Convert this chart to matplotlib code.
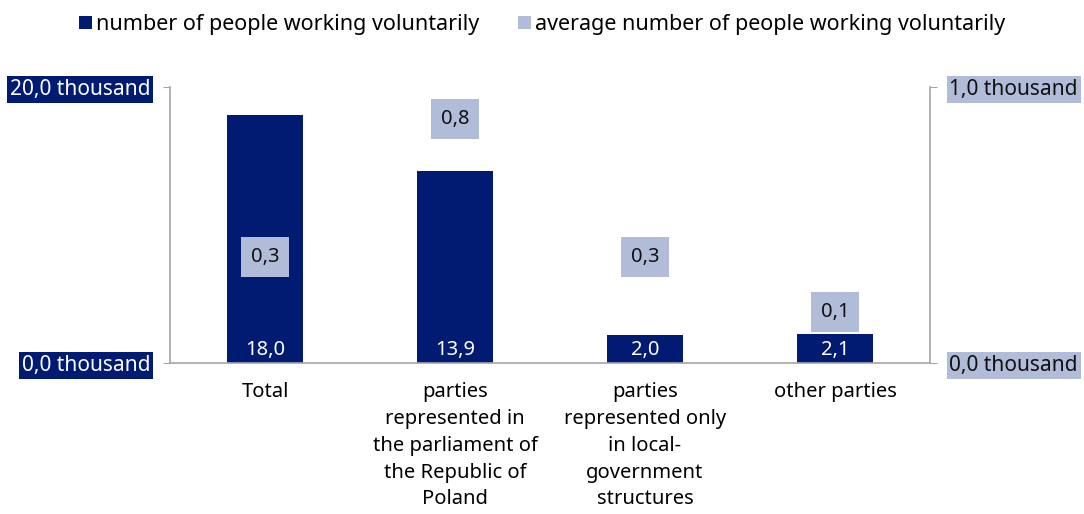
import matplotlib
matplotlib.use("Agg")
import matplotlib.pyplot as plt
import numpy as np
from matplotlib.patches import Patch

categories = ["Total",
              "parties\nrepresented in\nthe parliament of\nthe Republic of\nPoland",
              "parties\nrepresented only\nin local-\ngovernment\nstructures",
              "other parties"]
volunteers = [18.0, 13.9, 2.0, 2.1]          # thousand
avg_volunteers = [0.3, 0.8, 0.3, 0.1]        # thousand
left_ticks = [0.0, 20.0]
right_ticks = [0.0, 1.0]
series_names = ["number of people working voluntarily",
                "average number of people working voluntarily"]

NAVY = "#001b71"
LIGHT = "#b1bcd8"
GREY = "#a6a6a6"

def fmt(v):
    return f"{v:.1f}".replace(".", ",")

plt.rcParams['font.family'] = ['Noto Sans', 'DejaVu Sans']
plt.rcParams['font.size'] = 14.5

fig = plt.figure(figsize=(10.84, 5.14), dpi=100)
ax = fig.add_axes([170/1084, 1 - 363/514, (930-170)/1084, (363-87)/514])
x = np.arange(len(categories))
ax.bar(x, volunteers, width=0.4, color=NAVY, zorder=2)
ax.set_xlim(-0.5, len(categories) - 0.5)
ax.set_ylim(left_ticks[0], left_ticks[-1])

for xi, v in zip(x, volunteers):
    ax.annotate(fmt(v), (xi, 0), xytext=(0, 2), textcoords="offset points",
                ha="center", va="bottom", color="white", fontsize=14.5)

ax.set_xticks(x)
ax.set_xticklabels(categories, linespacing=1.45, va="top", fontsize=14.5)
ax.tick_params(axis="x", length=0, pad=14)
ax.set_yticks(left_ticks)
ax.set_yticklabels([fmt(t) + " thousand" for t in left_ticks], color="white", fontsize=15)
ax.tick_params(axis="y", length=5, color=GREY, pad=9)
for lbl in ax.get_yticklabels():
    lbl.set_bbox(dict(facecolor=NAVY, edgecolor="none", pad=2))

for s in ["top", "right"]:
    ax.spines[s].set_visible(False)
ax.spines["left"].set_color(GREY)
ax.spines["bottom"].set_color(GREY)
ax.spines["left"].set_linewidth(1.2)
ax.spines["bottom"].set_linewidth(1.2)

ax2 = ax.twinx()
ax2.set_ylim(right_ticks[0], right_ticks[-1])
ax2.set_yticks(right_ticks)
ax2.set_yticklabels([fmt(t) + " thousand" for t in right_ticks], color="#111111", fontsize=15)
ax2.tick_params(axis="y", length=5, color=GREY, pad=9)
for lbl in ax2.get_yticklabels():
    lbl.set_bbox(dict(facecolor=LIGHT, edgecolor="none", pad=2))
for s in ["top", "left", "bottom"]:
    ax2.spines[s].set_visible(False)
ax2.spines["right"].set_color(GREY)
ax2.spines["right"].set_linewidth(1.2)

for xi, v in zip(x, avg_volunteers):
    ax2.annotate(fmt(v), (xi, v), xytext=(0, 17), textcoords="offset points",
                 ha="center", va="center", color="#111111", fontsize=14.5,
                 bbox=dict(facecolor=LIGHT, edgecolor="none", boxstyle="square,pad=0.5"))

handles = [Patch(facecolor=NAVY), Patch(facecolor=LIGHT)]
fig.legend(handles, series_names, loc="upper center", bbox_to_anchor=(0.5, 1.01),
           ncol=2, frameon=False, handlelength=0.6, handleheight=0.6,
           handletextpad=0.2, columnspacing=1.8, fontsize=15.5)

fig.savefig("out.png", dpi=100)
